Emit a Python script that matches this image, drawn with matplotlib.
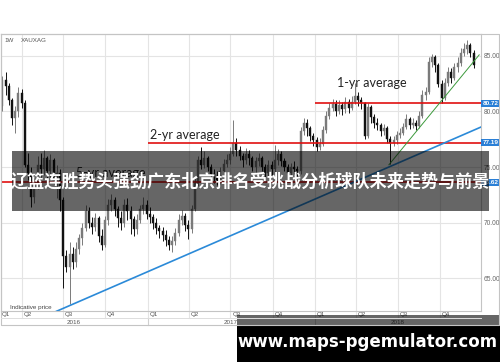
import matplotlib
matplotlib.use('Agg')
import matplotlib.pyplot as plt
import matplotlib.dates as mdates
import matplotlib.transforms as mtransforms
from matplotlib.patches import Rectangle
import datetime as dt
import numpy as np

# ---------------- data ----------------
first_week = dt.date(2016, 2, 19)
n_weeks = 148

opens = [80.5, 82.8, 82.3, 81.0, 79.4, 80.0, 81.7, 80.8, 75.2, 74.5,
         72.3, 73.5, 75.2, 74.8, 75.8, 74.6, 75.6, 73.8, 74.5, 72.0,
         67.0, 66.0, 67.2, 66.4, 67.6, 68.6, 69.5, 71.0, 70.0, 69.6,
         70.4, 68.8, 68.0, 70.2, 71.6, 72.0, 71.2, 70.4, 70.0, 71.6,
         71.0, 70.3, 69.4, 70.2, 71.2, 71.6, 70.8, 70.5, 70.0, 69.5,
         69.2, 68.9, 68.4, 68.0, 68.3, 69.1, 70.2, 70.6, 69.8, 69.4,
         71.2, 73.6, 75.6, 75.2, 75.8, 75.0, 74.4, 74.2, 73.8, 74.6,
         75.3, 75.6, 76.2, 77.2, 76.5, 76.0, 75.6, 76.2, 75.8, 75.0,
         75.5, 75.8, 75.0, 74.5, 75.2, 74.8, 75.6, 76.2, 75.5, 75.0,
         74.5, 75.0, 74.8, 74.6, 78.2, 79.0, 78.5, 77.8, 77.4, 76.8,
         77.1, 78.3, 79.6, 80.3, 80.7, 80.0, 80.6, 80.2, 80.9, 80.3,
         80.9, 81.4, 81.0, 80.8, 77.8, 80.4, 79.5, 79.0, 78.8, 78.2,
         78.5, 77.5, 77.2, 77.4, 77.9, 78.1, 78.6, 79.3, 78.8, 79.0,
         78.7, 79.6, 81.5, 81.8, 84.5, 84.9, 84.2, 82.5, 81.2, 82.6,
         83.6, 83.0, 84.0, 84.4, 85.3, 85.6, 86.0, 85.3]
highs = [83.2, 83.6, 82.6, 81.2, 80.5, 82.2, 82.0, 81.0, 76.3, 75.0,
         74.0, 76.0, 76.3, 76.5, 76.0, 76.2, 75.8, 75.2, 74.8, 72.3,
         67.5, 68.2, 67.8, 68.2, 69.0, 70.0, 71.6, 71.4, 70.5, 70.9,
         70.6, 69.4, 70.6, 72.1, 72.6, 72.3, 71.5, 71.0, 72.1, 72.2,
         71.5, 70.6, 70.8, 71.6, 72.3, 72.0, 71.4, 70.8, 70.4, 69.8,
         69.6, 69.3, 68.8, 68.8, 69.5, 70.8, 71.1, 70.9, 70.2, 71.6,
         74.0, 76.0, 76.8, 76.4, 76.0, 75.3, 74.8, 74.6, 75.0, 75.7,
         76.2, 76.8, 79.2, 77.6, 76.9, 76.3, 76.7, 76.5, 76.0, 75.9,
         76.3, 76.0, 75.3, 75.6, 75.5, 77.0, 76.6, 76.4, 75.8, 75.3,
         75.4, 75.5, 75.1, 78.6, 79.4, 79.3, 78.7, 78.1, 77.7, 77.6,
         78.7, 80.0, 80.8, 81.1, 81.0, 81.0, 80.9, 81.3, 81.1, 81.4,
         82.6, 81.8, 81.3, 80.9, 80.8, 80.6, 79.8, 79.4, 79.0, 78.9,
         78.7, 77.8, 77.8, 78.2, 78.5, 79.0, 79.8, 79.5, 79.4, 79.2,
         80.0, 81.9, 82.2, 84.9, 85.2, 85.1, 84.4, 82.8, 83.0, 84.0,
         83.9, 84.4, 84.9, 85.7, 86.2, 86.4, 86.2, 85.5]
lows = [80.0, 81.5, 80.6, 78.8, 78.1, 79.5, 80.3, 75.0, 73.8, 71.4,
        71.8, 73.0, 74.0, 74.3, 74.0, 74.0, 73.4, 72.2, 71.0, 64.1,
        65.5, 62.7, 65.8, 66.0, 67.2, 68.0, 69.2, 69.5, 69.0, 69.2,
        68.2, 67.5, 67.8, 69.8, 71.0, 70.6, 69.6, 69.3, 69.6, 70.2,
        69.0, 68.8, 69.0, 70.0, 70.8, 70.3, 70.0, 69.4, 69.0, 68.6,
        68.3, 67.9, 67.5, 67.3, 68.0, 68.8, 69.8, 69.2, 68.5, 69.1,
        71.0, 73.3, 74.8, 74.9, 74.6, 73.9, 73.6, 73.4, 73.5, 74.2,
        75.0, 75.3, 76.0, 76.0, 75.6, 75.0, 75.3, 75.2, 74.6, 74.5,
        75.1, 74.6, 74.1, 74.2, 74.3, 74.5, 75.2, 75.1, 74.6, 74.1,
        74.2, 74.4, 74.1, 74.4, 77.9, 77.8, 77.3, 76.9, 76.4, 76.5,
        76.9, 78.1, 79.3, 80.0, 79.6, 79.8, 79.7, 79.9, 79.9, 80.1,
        80.7, 80.5, 80.2, 77.5, 77.6, 79.0, 78.5, 78.3, 77.8, 77.9,
        77.2, 75.3, 76.9, 77.1, 77.6, 77.9, 78.4, 78.4, 78.5, 78.3,
        78.5, 79.4, 81.0, 81.6, 84.0, 83.6, 82.2, 80.8, 81.0, 82.3,
        82.6, 82.8, 83.6, 84.1, 85.0, 85.2, 84.9, 83.9]
closes = [82.8, 82.3, 81.0, 79.4, 80.0, 81.7, 80.8, 75.2, 74.5, 72.3,
          73.5, 75.2, 74.8, 75.8, 74.6, 75.6, 73.8, 74.5, 72.0, 67.0,
          66.0, 67.2, 66.4, 67.6, 68.6, 69.5, 71.0, 70.0, 69.6, 70.4,
          68.8, 68.0, 70.2, 71.6, 72.0, 71.2, 70.4, 70.0, 71.6, 71.0,
          70.3, 69.4, 70.2, 71.2, 71.6, 70.8, 70.5, 70.0, 69.5, 69.2,
          68.9, 68.4, 68.0, 68.3, 69.1, 70.2, 70.6, 69.8, 69.4, 71.2,
          73.6, 75.6, 75.2, 75.8, 75.0, 74.4, 74.2, 73.8, 74.6, 75.3,
          75.6, 76.2, 77.2, 76.5, 76.0, 75.6, 76.2, 75.8, 75.0, 75.5,
          75.8, 75.0, 74.5, 75.2, 74.8, 75.6, 76.2, 75.5, 75.0, 74.5,
          75.0, 74.8, 74.6, 78.2, 79.0, 78.5, 77.8, 77.4, 76.8, 77.1,
          78.3, 79.6, 80.3, 80.7, 80.0, 80.6, 80.2, 80.9, 80.3, 80.9,
          81.4, 81.0, 80.8, 77.8, 80.4, 79.5, 79.0, 78.8, 78.2, 78.5,
          77.5, 77.2, 77.4, 77.9, 78.1, 78.6, 79.3, 78.8, 79.0, 78.7,
          79.6, 81.5, 81.8, 84.5, 84.9, 84.2, 82.5, 81.2, 82.6, 83.6,
          83.0, 84.0, 84.4, 85.3, 85.6, 86.0, 85.3, 84.2]

avg_names = ['5-yr average', '2-yr average', '1-yr average']
avg_values = [73.62, 77.19, 80.72]
avg_starts = [dt.date(2016, 2, 15), dt.date(2017, 1, 1), dt.date(2018, 1, 1)]
avg_label_x = [dt.date(2016, 7, 28), dt.date(2017, 1, 7), dt.date(2018, 2, 19)]
avg_label_y = [74.45, 77.9, 82.57]

blue_x = [dt.date(2016, 6, 16), dt.date(2018, 12, 30)]
blue_y = [62.0, 78.6]
green_x = [dt.date(2018, 6, 12), dt.date(2018, 12, 26)]
green_y = [75.2, 85.1]

y_ticks = [65, 70, 75, 80, 85]
quarter_starts = [dt.date(2016, 4, 1), dt.date(2016, 7, 1), dt.date(2016, 10, 1),
                  dt.date(2017, 1, 1), dt.date(2017, 4, 1), dt.date(2017, 7, 1),
                  dt.date(2017, 10, 1), dt.date(2018, 1, 1), dt.date(2018, 4, 1),
                  dt.date(2018, 7, 1), dt.date(2018, 10, 1)]
quarter_names = ['Q2', 'Q3', 'Q4', 'Q1', 'Q2', 'Q3', 'Q4', 'Q1', 'Q2', 'Q3', 'Q4']
year_names = ['2016', '2017', '2018']
year_starts = [dt.date(2016, 1, 1), dt.date(2017, 1, 1), dt.date(2018, 1, 1)]

title = '辽篮连胜势头强劲广东北京排名受挑战分析球队未来走势与前景'
watermark = 'www.maps-pgemulator.com'

x_left = dt.date(2016, 2, 15)
x_right = dt.date(2018, 12, 30)

SMALL = 'Liberation Sans'

# ---------------- figure ----------------
W, H = 500, 362
fig = plt.figure(figsize=(W / 100, H / 100), dpi=100)
fig.patch.set_facecolor('white')
ax = fig.add_axes([0.5 / W, (H - 311) / H, 480.5 / W, 277 / H])

dnum = mdates.date2num([first_week + dt.timedelta(days=7 * i) for i in range(n_weeks)])
o = np.array(opens); c = np.array(closes); h = np.array(highs); l = np.array(lows)
up = c >= o
cols = np.where(up, '#7a7a7a', '#111111')
ax.vlines(dnum, l, h, colors=cols, lw=0.7, zorder=3)
body_h = np.maximum(np.abs(c - o), 0.12)
ax.bar(dnum, body_h, bottom=np.minimum(o, c), width=4.4, color=cols,
       edgecolor=cols, linewidth=0.3, zorder=4)

xl = mdates.date2num(x_left); xr = mdates.date2num(x_right)
ax.set_xlim(xl, xr)
ax.set_ylim(62.03, 86.98)

# grid
ax.set_yticks(y_ticks)
ax.set_yticklabels([f'{v:.2f}' for v in y_ticks], family=SMALL)
ax.yaxis.tick_right()
ax.tick_params(axis='y', length=0, pad=2, labelsize=4.8, labelcolor='#666666')
ax.set_xticks(mdates.date2num(quarter_starts))
ax.set_xticklabels([])
ax.tick_params(axis='x', length=0)
ax.grid(True, color='#e4e4e4', lw=0.8, zorder=0)
for s in ax.spines.values():
    s.set_color('#c4c4c4'); s.set_linewidth(0.8)

# averages
for nm, v, st, lx, ly in zip(avg_names, avg_values, avg_starts, avg_label_x, avg_label_y):
    ax.plot([mdates.date2num(st), xr], [v, v], color='#e01010', lw=1.2, zorder=5,
            solid_capstyle='butt')
    ax.text(mdates.date2num(lx), ly, nm, fontsize=9, family='Lato', color='#222222',
            ha='left', va='center', zorder=6)

# trend lines
ax.plot(mdates.date2num(blue_x), blue_y, color='#2b8ad8', lw=1.2, zorder=5)
ax.plot(mdates.date2num(green_x), green_y, color='#3c9a3c', lw=0.7, zorder=5)

bt = mtransforms.blended_transform_factory(ax.transAxes, ax.transData)
for v in avg_values:
    ax.text(1.003, v, f'{v:.2f}', transform=bt, ha='left', va='center', fontsize=4.6,
            color='white', fontweight='bold', family=SMALL, clip_on=False, zorder=7,
            bbox=dict(boxstyle='square,pad=0.2', fc='#2a7fd6', ec='none'))

ax.text(0.008, 0.975, '1W', transform=ax.transAxes, fontsize=4.5, color='#555555',
        family=SMALL, ha='left', va='center')
ax.text(0.042, 0.975, 'XAUXAG', transform=ax.transAxes, fontsize=4.5, color='#555555',
        family=SMALL, ha='left', va='center')
ax.text(0.019, 0.014, 'Indicative price', transform=ax.transAxes, fontsize=4.5,
        family=SMALL, color='#444444', ha='left', va='center')

xt = mtransforms.blended_transform_factory(ax.transData, ax.transAxes)
ax.text(xl + 3, -0.011, 'Q1', transform=xt, fontsize=4.5, color='#555555',
        family=SMALL, ha='left', va='center', clip_on=False)
for qd, qn in zip(quarter_starts, quarter_names):
    qx = mdates.date2num(qd)
    ax.text(qx + 4, -0.011, qn, transform=xt, fontsize=4.5, color='#555555',
            family=SMALL, ha='left', va='center', clip_on=False)
    ax.plot([qx, qx], [0, -0.025], transform=xt, color='#e4e4e4', lw=0.8, clip_on=False)
ys = [max(mdates.date2num(d), xl) for d in year_starts] + [xr]
for i, yn in enumerate(year_names):
    ax.text((ys[i] + ys[i + 1]) / 2, -0.04, yn, transform=xt, fontsize=4.5,
            family=SMALL, color='#555555', ha='center', va='center', clip_on=False)
    if i > 0:
        ax.plot([ys[i], ys[i]], [-0.025, -0.0505], transform=xt, color='#d0d0d0',
                lw=0.8, clip_on=False)

# ---------------- overlay (pixel space) ----------------
ov = fig.add_axes([0, 0, 1, 1], zorder=10)
ov.set_xlim(0, W); ov.set_ylim(H, 0); ov.axis('off')
ov.plot([0.5, 499, 499, 0.5, 0.5], [34, 34, 325, 325, 34], color='#c4c4c4', lw=0.8)
ov.plot([0.5, 481], [318, 318], color='#dddddd', lw=0.7)

ov.add_patch(Rectangle((12, 151), 477, 60, fc='black', alpha=0.6, ec='none'))
ov.text(250.5, 182, title, fontsize=12.3, fontweight='bold', color='white',
        family=['Noto Sans CJK SC', 'DejaVu Sans'], ha='center', va='center')

ov.add_patch(Rectangle((237, 315), 263, 11, fc='black', alpha=0.6, ec='none'))
ov.add_patch(Rectangle((237, 326), 263, 36, fc='black', ec='none'))
ov.text(367.5, 342, watermark, fontsize=12, fontweight='bold', color='white',
        family='DejaVu Sans', ha='center', va='center')

fig.savefig('out.png', dpi=100)
